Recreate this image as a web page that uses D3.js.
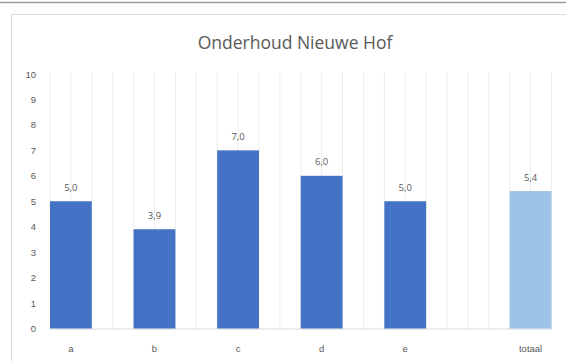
<!DOCTYPE html>
<html>
<head>
<meta charset="utf-8">
<script src="https://cdn.jsdelivr.net/npm/d3@7"></script>
<style>
  body { margin: 0; background: #fff; }
  svg { display: block; font-family: "Open Sans", sans-serif; }
</style>
</head>
<body>
<div id="container"></div>
<script>
//---------- DATA ----------//
// empty strings are the blank slots between the bars
const categories = ["a", "", "b", "", "c", "", "d", "", "e", "", "", "totaal"];
const values = [5.0, null, 3.9, null, 7.0, null, 6.0, null, 5.0, null, null, 5.4];
const yTicks = [0, 1, 2, 3, 4, 5, 6, 7, 8, 9, 10];
const title = "Onderhoud Nieuwe Hof";

//---------- SVG ----------//
const width = 566;
const height = 361;

const svg = d3.select("div#container")
    .append("svg")
    .attr("width", width)
    .attr("height", height);

// outer frame lines
svg.append("line")
    .attr("x1", 0).attr("x2", width)
    .attr("y1", 2.5).attr("y2", 2.5)
    .attr("stroke", "#9a9a9a")
    .attr("stroke-width", 1.5);
svg.append("rect")
    .attr("x", 11.5).attr("y", 14.5)
    .attr("width", width).attr("height", height)
    .attr("fill", "#fff")
    .attr("stroke", "#d9d9d9");

//---------- SCALES ----------//
const xScale = d3.scaleBand()
    .domain(d3.range(categories.length))
    .range([50, 551.5])
    .padding(0);
const yScale = d3.scaleLinear()
    .domain([0, 10])
    .range([328.5, 74]);

// vertical gridlines at every half slot
const half = xScale.bandwidth() / 2;
const gridX = d3.range(categories.length * 2 + 1).map(i => 50 + i * half);
svg.append("g")
    .selectAll("line")
    .data(gridX)
    .join("line")
    .attr("x1", d => d).attr("x2", d => d)
    .attr("y1", yScale(10) - 2).attr("y2", yScale(0))
    .attr("stroke", "#ececec")
    .attr("stroke-width", 1);

// baseline
svg.append("line")
    .attr("x1", 50).attr("x2", 551.5)
    .attr("y1", yScale(0) + 0.5).attr("y2", yScale(0) + 0.5)
    .attr("stroke", "#d9d9d9");

//---------- AXES ----------//
const yAxis = d3.axisLeft(yScale).tickValues(yTicks).tickSize(0).tickPadding(0);
const yg = svg.append("g")
    .attr("transform", "translate(36,0)")
    .call(yAxis);
yg.select(".domain").remove();
yg.selectAll("text")
    .attr("fill", "#595959")
    .style("font-size", "9.5px");

const xAxis = d3.axisBottom(xScale).tickFormat(i => categories[i]).tickSize(0).tickPadding(0);
const xg = svg.append("g")
    .attr("transform", `translate(0,${yScale(0) + 16.5})`)
    .call(xAxis);
xg.select(".domain").remove();
xg.selectAll("text")
    .attr("fill", "#595959")
    .style("font-size", "9.5px");

//---------- BARS ----------//
const barData = values.map((v, i) => ({ i: i, v: v })).filter(d => d.v !== null);
const last = categories.length - 1;

svg.append("g")
    .selectAll("rect")
    .data(barData)
    .join("rect")
    .attr("x", d => xScale(d.i))
    .attr("y", d => yScale(d.v))
    .attr("width", xScale.bandwidth())
    .attr("height", d => yScale(0) - yScale(d.v))
    .attr("fill", d => d.i === last ? "#9dc3e6" : "#4472c4");

// value labels with a comma decimal
svg.append("g")
    .selectAll("text")
    .data(barData)
    .join("text")
    .attr("x", d => xScale(d.i) + half)
    .attr("y", d => yScale(d.v) - 10.5)
    .attr("text-anchor", "middle")
    .attr("fill", "#595959")
    .style("font-size", "9.5px")
    .text(d => d.v.toFixed(1).replace(".", ","));

//---------- TITLE ----------//
svg.append("text")
    .attr("x", 295)
    .attr("y", 48.5)
    .attr("text-anchor", "middle")
    .attr("fill", "#595959")
    .style("font-size", "17.5px")
    .text(title);
</script>
</body>
</html>
